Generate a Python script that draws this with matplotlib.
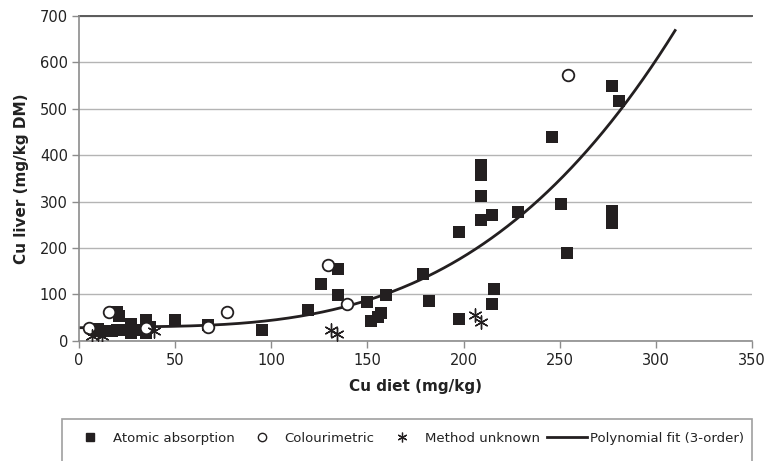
import numpy as np
import matplotlib
matplotlib.use("Agg")
import matplotlib.pyplot as plt
from matplotlib.patches import Rectangle
from matplotlib.lines import Line2D

plt.rcParams['font.family'] = ['DejaVu Sans']

# Atomic absorption (squares)
aa_x = [8, 10, 12, 14, 17, 20, 20, 21, 23, 27, 27, 30, 35, 35, 37, 50, 67, 95,
        119, 126, 134.7, 134.7, 149.7, 152, 155.5, 157, 159.5, 179, 182, 197.6,
        197.5, 209, 209, 209, 209, 215, 216, 215, 228.5, 246, 250.5, 254, 277,
        281, 277, 277]
aa_y = [22, 25, 20, 20, 20, 22, 62, 54, 22, 35, 17, 24, 44, 16, 30, 45, 34, 23,
        66, 122, 154, 98, 84, 42, 52, 59, 99, 144, 86, 235,
        47, 378, 358, 312, 260, 272, 111, 79, 278, 439, 294, 190, 549,
        516, 279, 253]

# Colourimetric (open circles)
col_x = [5, 15.5, 35, 67, 77, 129.3, 139.5, 254.3]
col_y = [27, 61, 27, 30, 61, 163, 80, 573]

# Method unknown (stars)
unk_x = [7, 10, 12, 39, 131, 134, 206, 209]
unk_y = [10, 15, 10, 21, 23, 15, 55, 40]

# Polynomial fit (3-order)
fit_x = [0, 67, 140, 160, 207, 239, 262, 281, 300, 309]
fit_y = [28, 33, 77, 100, 200, 300, 400, 500, 600, 663]

x_ticks = [0, 50, 100, 150, 200, 250, 300, 350]
y_ticks = [0, 100, 200, 300, 400, 500, 600, 700]

fig = plt.figure(figsize=(7.68, 4.61), dpi=100)
ax = fig.add_axes([79/768, 1-340.7/461, (752-79)/768, (340.7-16)/461])

dark = '#231f20'
grid = '#b4b4b4'

coef = np.polyfit(fit_x, fit_y, 3)
xs = np.linspace(0, 310, 300)
ax.plot(xs, np.polyval(coef, xs), color=dark, lw=2.0, zorder=2,
        label='Polynomial fit (3-order)')
ax.scatter(aa_x, aa_y, marker='s', s=70, color=dark, zorder=3, linewidths=0,
           label='Atomic absorption')
ax.scatter(col_x, col_y, marker='o', s=70, facecolor='white', edgecolor=dark,
           linewidths=1.3, zorder=4, label='Colourimetric')
ax.scatter(unk_x, unk_y, marker=(6, 2, 0), s=90, color=dark, linewidths=1.0,
           zorder=4, label='Method unknown')

ax.set_xlim(0, 350)
ax.set_ylim(0, 700)
ax.set_xticks(x_ticks)
ax.set_yticks(y_ticks)
ax.yaxis.grid(True, color=grid, lw=1.0)
ax.set_axisbelow(True)
for s in ['top', 'right']:
    ax.spines[s].set_visible(False)
for s in ['left', 'bottom']:
    ax.spines[s].set_color('#8c8c8c')
    ax.spines[s].set_linewidth(1.2)
ax.axhline(700, color='#5a5a5a', lw=1.4, zorder=1, clip_on=False)
ax.tick_params(axis='both', direction='out', length=5, width=1.0,
               color='#8c8c8c', labelsize=10.5, labelcolor='#222222')
ax.tick_params(axis='x', pad=4)
ax.tick_params(axis='y', pad=3)

ax.set_xlabel('Cu diet (mg/kg)', fontsize=11, fontweight='bold', color='#222222',
              labelpad=8)
ax.set_ylabel('Cu liver (mg/kg DM)', fontsize=11, fontweight='bold', color='#222222',
              labelpad=8)

# Legend box
fig.patches.append(Rectangle((62/768, -0.05), (752-62)/768, (461-419)/461 + 0.05,
                             transform=fig.transFigure, fill=False,
                             edgecolor='#a0a0a0', lw=1.2))
handles = [
    Line2D([], [], marker='s', ls='none', color=dark, markersize=6),
    Line2D([], [], marker='o', ls='none', markerfacecolor='white',
           markeredgecolor=dark, markersize=6, markeredgewidth=1.0),
    Line2D([], [], marker=(6, 2, 0), ls='none', color=dark, markersize=7,
           markeredgewidth=0.9),
    Line2D([], [], color=dark, lw=2.0),
]
labels = ['Atomic absorption', 'Colourimetric', 'Method unknown',
          'Polynomial fit (3-order)']
fig.legend(handles, labels, loc='center', bbox_to_anchor=(407/768, 1-438/461),
           ncol=4, frameon=False, fontsize=9.5, handlelength=3.0,
           handletextpad=0.2, columnspacing=0.6, labelcolor='#222222')

fig.savefig('out.png', dpi=100)
